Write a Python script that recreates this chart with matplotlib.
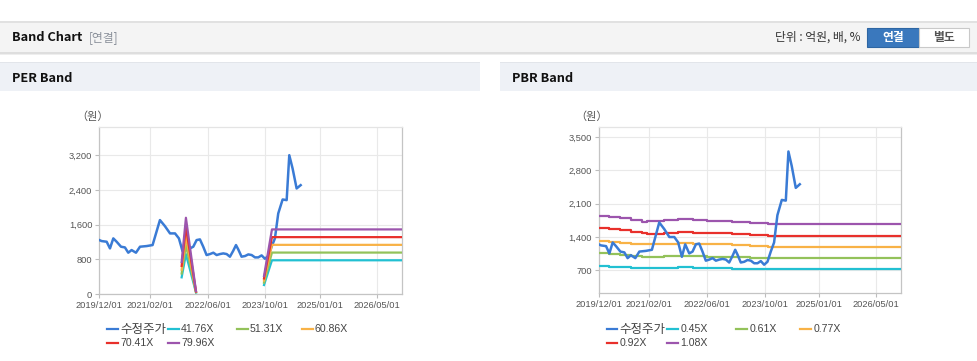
import matplotlib
matplotlib.use("Agg")
import matplotlib.pyplot as plt
import matplotlib.dates as mdates
from matplotlib.patches import Rectangle
from matplotlib.lines import Line2D
import numpy as np
import pandas as pd

plt.rcParams['font.family'] = ['Liberation Sans', 'Noto Sans CJK KR', 'DejaVu Sans']
KR = ['Noto Sans CJK KR', 'DejaVu Sans']

# ---------------- data ----------------
price_dates = ['2019-12-01', '2019-12-21', '2020-02-01', '2020-02-29', '2020-03-28', '2020-04-25',
               '2020-06-01', '2020-07-04', '2020-08-01', '2020-08-29', '2020-10-05', '2020-11-08',
               '2021-01-03', '2021-02-22', '2021-04-25', '2021-06-06', '2021-07-19', '2021-08-30',
               '2021-10-02', '2021-11-02', '2021-11-30', '2022-01-03', '2022-01-31', '2022-02-28',
               '2022-03-28', '2022-04-25', '2022-05-23', '2022-06-21', '2022-07-19', '2022-08-16',
               '2022-09-13', '2022-10-11', '2022-11-08', '2022-12-06', '2023-01-03', '2023-01-26',
               '2023-02-14', '2023-03-14', '2023-04-12', '2023-05-10', '2023-06-07', '2023-07-05',
               '2023-08-02', '2023-08-30', '2023-09-27', '2023-10-25', '2023-11-22', '2023-12-20',
               '2024-01-17', '2024-02-23', '2024-03-28', '2024-04-19', '2024-05-17', '2024-06-20',
               '2024-07-24']
price = [1243, 1220, 1205, 1051, 1282, 1205,
         1090, 1074, 952, 1013, 952, 1090,
         1105, 1128, 1704, 1565, 1397, 1397,
         1282, 980, 1243, 1051, 1090, 1243,
         1259, 1090, 898, 921, 952, 898,
         921, 936, 921, 860, 998, 1128,
         1028, 860, 875, 913, 898, 844,
         844, 890, 813, 875, 1090, 1282,
         1857, 2179, 2164, 3200, 2893, 2433,
         2509]

per_labels = ['41.76X', '51.31X', '60.86X', '70.41X', '79.96X']
per_band_dates = ['2021-10-25', '2021-11-30', '2022-02-23', '2022-02-24',
                  '2023-09-19', '2023-11-25', '2026-11-25']
per_4176 = [384, 918, 33, np.nan, 207, 777, 777]
per_5131 = [472, 1128, 41, np.nan, 262, 955, 955]
per_6086 = [560, 1338, 49, np.nan, 310, 1133, 1133]
per_7041 = [648, 1548, 56, np.nan, 359, 1311, 1311]
per_7996 = [736, 1758, 64, np.nan, 414, 1489, 1489]

pbr_labels = ['0.45X', '0.61X', '0.77X', '0.92X', '1.08X']
pbr_band_dates = ['2019-12-01', '2020-03-01', '2020-06-01', '2020-09-01', '2020-12-01',
                  '2021-01-10', '2021-06-01', '2021-10-01', '2022-02-01', '2022-06-01',
                  '2023-01-01', '2023-06-01', '2023-11-01', '2026-11-25']
pbr_045 = [784, 772, 760, 748, 738, 735, 745, 756, 750, 742, 730, 721, 714, 714]
pbr_061 = [1050, 1035, 1020, 1005, 985, 980, 990, 1001, 995, 985, 970, 959, 945, 945]
pbr_077 = [1316, 1295, 1278, 1260, 1245, 1240, 1252, 1262, 1255, 1245, 1225, 1200, 1190, 1190]
pbr_092 = [1590, 1565, 1540, 1510, 1478, 1471, 1485, 1500, 1490, 1480, 1465, 1450, 1421, 1421]
pbr_108 = [1840, 1815, 1790, 1765, 1705, 1734, 1755, 1776, 1755, 1741, 1720, 1699, 1664, 1664]

x_ticks = ['2019-12-01', '2021-02-01', '2022-06-01', '2023-10-01', '2025-01-01', '2026-05-01']
per_yticks = [0, 800, 1600, 2400, 3200]
pbr_yticks = [700, 1400, 2100, 2800, 3500]

# ---------------- style ----------------
C_PRICE = '#3a7bd5'
C_BANDS = ['#22c0d2', '#93c25a', '#f8b246', '#e8302b', '#9c55ad']
W, H = 978, 361

fig = plt.figure(figsize=(W / 100, H / 100), dpi=100)
fig.patch.set_facecolor('white')


def fx(x):
    return x / W


def fy(y):
    return 1 - y / H


def rect(x0, y0, x1, y1, fc, ec='none', lw=0, z=0):
    fig.patches.append(Rectangle((fx(x0), fy(y1)), fx(x1) - fx(x0), fy(y0) - fy(y1),
                                 transform=fig.transFigure, facecolor=fc, edgecolor=ec,
                                 linewidth=lw, zorder=z))


# header bar
rect(0, 20.5, W, 22.5, '#e1e1e1')
rect(0, 22.5, W, 52, '#f4f4f4')
rect(0, 52, W, 53.5, '#dedede')
rect(0, 53.5, W, 55, '#eeeeee')
fig.text(fx(12), fy(37.5), 'Band Chart', fontsize=9.2, fontweight='bold', color='#111111',
         va='center', ha='left', family=KR)
fig.text(fx(89), fy(37.5), '[연결]', fontsize=8.5, color='#8a909a', va='center', ha='left', family=KR)
fig.text(fx(861), fy(37.5), '단위 : 억원, 배, %', fontsize=8.5, color='#333333', va='center',
         ha='right', family=KR)
rect(867, 27.5, 919, 46.5, '#3a78bd', ec='#2e66a3', lw=0.8, z=1)
rect(919, 27.5, 969, 46.5, '#ffffff', ec='#c9c9c9', lw=0.8, z=1)
fig.text(fx(893), fy(37.5), '연결', fontsize=8.5, fontweight='bold', color='white', va='center',
         ha='center', family=KR, zorder=3)
fig.text(fx(944), fy(37.5), '별도', fontsize=8.5, fontweight='bold', color='#555555', va='center',
         ha='center', family=KR, zorder=3)

# panel headers
for (x0, x1, title) in [(0, 480, 'PER Band'), (500, W, 'PBR Band')]:
    rect(x0, 61.5, x1, 63.5, '#e2e5ea')
    rect(x0, 63.5, x1, 91, '#eef1f6')
    fig.text(fx(x0 + 12), fy(78), title, fontsize=9.2, fontweight='bold', color='#111111',
             va='center', ha='left', family=KR)


def style_axes(ax, yticks, ylim):
    d = pd.to_datetime(x_ticks)
    ax.set_xlim(pd.Timestamp('2019-12-01'), pd.Timestamp('2026-11-25'))
    ax.set_ylim(*ylim)
    ax.set_xticks(d)
    ax.set_xticklabels([t.strftime('%Y/%m/%d') for t in d])
    ax.set_yticks(yticks)
    ax.set_yticklabels([f'{v:,}' for v in yticks])
    ax.grid(True, color='#e9e9e9', linewidth=0.8)
    ax.set_axisbelow(True)
    for s in ax.spines.values():
        s.set_color('#c4c4c4')
        s.set_linewidth(0.9)
    ax.spines['top'].set_color('#e4e4e4')
    ax.tick_params(axis='both', colors='#bdbdbd', labelcolor='#555555', labelsize=6.7,
                   length=3, width=0.8, pad=2)


def legend(positions, labels, colors):
    for (x, y), lab, col in zip(positions, labels, colors):
        fig.add_artist(Line2D([fx(x), fx(x + 11)], [fy(y), fy(y)], color=col, linewidth=1.6,
                              transform=fig.transFigure))
        is_kr = lab == '수정주가'
        fig.text(fx(x + 13), fy(y), lab, fontsize=9 if is_kr else 7.6, color='#444444',
                 va='center', ha='left', family=KR if is_kr else ['Liberation Sans'])


# ---------------- PER ----------------
ax1 = fig.add_axes([fx(99.3), fy(294), fx(402) - fx(99.3), fy(127) - fy(294)])
pd_price = pd.to_datetime(price_dates)
ax1.plot(pd_price, price, color=C_PRICE, linewidth=1.8, zorder=3)
pbd = pd.to_datetime(per_band_dates)
for vals, col in zip([per_4176, per_5131, per_6086, per_7041, per_7996], C_BANDS):
    ax1.plot(pbd, vals, color=col, linewidth=1.6, zorder=4)
style_axes(ax1, per_yticks, (0, 3850))
fig.text(fx(93), fy(116.5), '（원）', fontsize=8, color='#555555', va='center', ha='center', family=KR)

legend([(107, 329.3), (168, 329.3), (237, 329.3), (302, 329.3), (107, 343.3), (168, 343.3)],
       ['수정주가'] + per_labels, [C_PRICE] + C_BANDS)

# ---------------- PBR ----------------
ax2 = fig.add_axes([fx(598.7), fy(293), fx(901) - fx(598.7), fy(127) - fy(293)])
bbd = pd.to_datetime(pbr_band_dates)
for vals, col in zip([pbr_045, pbr_061, pbr_077, pbr_092, pbr_108], C_BANDS):
    ax2.plot(bbd, vals, color=col, linewidth=1.6, drawstyle='steps-post', zorder=3)
ax2.plot(pd_price, price, color=C_PRICE, linewidth=1.8, zorder=4)
style_axes(ax2, pbr_yticks, (217, 3716))
fig.text(fx(592), fy(116.5), '（원）', fontsize=8, color='#555555', va='center', ha='center', family=KR)

legend([(606.5, 329.3), (667.5, 329.3), (736.5, 329.3), (800.5, 329.3), (606.5, 343.3), (667.5, 343.3)],
       ['수정주가'] + pbr_labels, [C_PRICE] + C_BANDS)

fig.savefig('out.png', dpi=100, facecolor='white')
